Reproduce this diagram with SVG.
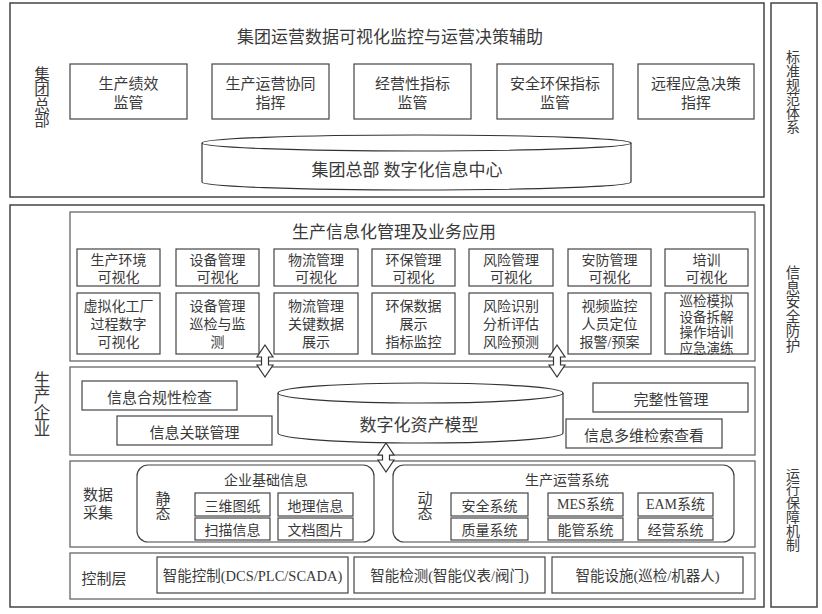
<svg xmlns="http://www.w3.org/2000/svg" width="822" height="614" viewBox="0 0 822 614">
<style>
text{font-family:"Noto Sans CJK SC","Liberation Serif",sans-serif;fill:#3a3a3a;dominant-baseline:central;text-anchor:middle}
.v{writing-mode:vertical-rl;dominant-baseline:auto}
.lat,.ml{font-family:"Liberation Serif","Noto Sans CJK SC",serif}
.frame{fill:#fff;stroke:#444;stroke-width:1.5}
.panel{fill:#fff;stroke:#666;stroke-width:1.3}
.box{fill:#fff;stroke:#444;stroke-width:1.2}
.rr{fill:none;stroke:#444;stroke-width:1.2}
.cyl{fill:#fff;stroke:#333;stroke-width:1.2}
.arrow{fill:#fff;stroke:#333;stroke-width:1.2}
.t15{font-size:15px}
.t14{font-size:14px}
.t17{font-size:17px}
.t16{font-size:16px}
</style>
<rect width="822" height="614" fill="#fff"/>

<!-- right column -->
<g id="side">
<rect class="frame" x="771" y="3" width="46" height="604"/>
<text class="t14 v" x="793" y="92">标准规范体系</text>
<text class="t14 v" x="793" y="309" style="font-size:14.5px">信息安全防护</text>
<text class="t14 v" x="793" y="510">运行保障机制</text>
</g>

<!-- group HQ -->
<g id="hq">
<rect class="frame" x="10" y="3" width="754" height="194"/>
<text class="t17" x="390" y="35">集团运营数据可视化监控与运营决策辅助</text>
<text class="v" x="42" y="97" style="font-size:15.5px">集团总部</text>
</g>
<g id="hq1"><rect class="box" x="70" y="64" width="117" height="55"/><text class="t15 ml"><tspan x="128.5" y="84">生产绩效</tspan><tspan x="128.5" y="103">监管</tspan></text></g>
<g id="hq2"><rect class="box" x="212" y="64" width="117" height="55"/><text class="t15 ml"><tspan x="270.5" y="84">生产运营协同</tspan><tspan x="270.5" y="103">指挥</tspan></text></g>
<g id="hq3"><rect class="box" x="354" y="64" width="117" height="55"/><text class="t15 ml"><tspan x="412.5" y="84">经营性指标</tspan><tspan x="412.5" y="103">监管</tspan></text></g>
<g id="hq4"><rect class="box" x="497" y="64" width="116" height="55"/><text class="t15 ml"><tspan x="555" y="84">安全环保指标</tspan><tspan x="555" y="103">监管</tspan></text></g>
<g id="hq5"><rect class="box" x="638" y="64" width="116" height="55"/><text class="t15 ml"><tspan x="696" y="84">远程应急决策</tspan><tspan x="696" y="103">指挥</tspan></text></g>
<g id="hqdb">
<path class="cyl" d="M202,143 A214.5,8 0 0 1 631,143 L631,182 A214.5,8 0 0 1 202,182 Z"/>
<path class="cyl" fill="none" d="M202,143 A214.5,8 0 0 0 631,143"/>
<text class="t17" x="407" y="168">集团总部 数字化信息中心</text>
</g>

<!-- enterprise -->
<g id="ent">
<rect class="frame" x="10" y="205" width="754" height="402"/>
<text class="v" x="42" y="404" style="font-size:16.5px">生产企业</text>
</g>

<g id="apps">
<rect class="panel" x="70" y="212" width="685" height="149"/>
<text class="t17" x="394" y="230">生产信息化管理及业务应用</text>
</g>
<g id="a1"><rect class="box" x="77" y="249" width="83" height="37"/><text class="t14 ml"><tspan x="118.5" y="260">生产环境</tspan><tspan x="118.5" y="277">可视化</tspan></text></g>
<g id="a2"><rect class="box" x="176" y="249" width="83" height="37"/><text class="t14 ml"><tspan x="217.5" y="260">设备管理</tspan><tspan x="217.5" y="277">可视化</tspan></text></g>
<g id="a3"><rect class="box" x="274" y="249" width="84" height="37"/><text class="t14 ml"><tspan x="316" y="260">物流管理</tspan><tspan x="316" y="277">可视化</tspan></text></g>
<g id="a4"><rect class="box" x="372" y="249" width="83" height="37"/><text class="t14 ml"><tspan x="413.5" y="260">环保管理</tspan><tspan x="413.5" y="277">可视化</tspan></text></g>
<g id="a5"><rect class="box" x="469" y="249" width="84" height="37"/><text class="t14 ml"><tspan x="511" y="260">风险管理</tspan><tspan x="511" y="277">可视化</tspan></text></g>
<g id="a6"><rect class="box" x="568" y="249" width="83" height="37"/><text class="t14 ml"><tspan x="609.5" y="260">安防管理</tspan><tspan x="609.5" y="277">可视化</tspan></text></g>
<g id="a7"><rect class="box" x="665" y="249" width="83" height="37"/><text class="t14 ml"><tspan x="706.5" y="260">培训</tspan><tspan x="706.5" y="277">可视化</tspan></text></g>

<g id="b1"><rect class="box" x="77" y="293" width="83" height="61"/><text class="t14 ml"><tspan x="118.5" y="306">虚拟化工厂</tspan><tspan x="118.5" y="324">过程数字</tspan><tspan x="118.5" y="342">可视化</tspan></text></g>
<g id="b2"><rect class="box" x="176" y="293" width="83" height="61"/><text class="t14 ml"><tspan x="217.5" y="306">设备管理</tspan><tspan x="217.5" y="324">巡检与监</tspan><tspan x="217.5" y="342">测</tspan></text></g>
<g id="b3"><rect class="box" x="274" y="293" width="84" height="61"/><text class="t14 ml"><tspan x="316" y="306">物流管理</tspan><tspan x="316" y="324">关键数据</tspan><tspan x="316" y="342">展示</tspan></text></g>
<g id="b4"><rect class="box" x="372" y="293" width="83" height="61"/><text class="t14 ml"><tspan x="413.5" y="306">环保数据</tspan><tspan x="413.5" y="324">展示</tspan><tspan x="413.5" y="342">指标监控</tspan></text></g>
<g id="b5"><rect class="box" x="469" y="293" width="84" height="61"/><text class="t14 ml"><tspan x="511" y="306">风险识别</tspan><tspan x="511" y="324">分析评估</tspan><tspan x="511" y="342">风险预测</tspan></text></g>
<g id="b6"><rect class="box" x="568" y="293" width="83" height="61"/><text class="t14 ml"><tspan x="609.5" y="306">视频监控</tspan><tspan x="609.5" y="324">人员定位</tspan><tspan x="609.5" y="342">报警/预案</tspan></text></g>
<g id="b7"><rect class="box" x="665" y="293" width="83" height="61"/><text class="ml" style="font-size:13.5px"><tspan x="706.5" y="301">巡检模拟</tspan><tspan x="706.5" y="316.5">设备拆解</tspan><tspan x="706.5" y="332">操作培训</tspan><tspan x="706.5" y="347.5">应急演练</tspan></text></g>

<g id="asset">
<rect class="panel" x="70" y="367" width="685" height="88"/>
</g>
<g id="c1"><rect class="box" x="82" y="381" width="155" height="29"/><text class="t15" x="159.5" y="396">信息合规性检查</text></g>
<g id="c2"><rect class="box" x="117" y="416" width="155" height="29"/><text class="t15" x="194.5" y="431">信息关联管理</text></g>
<g id="c3"><rect class="box" x="593" y="383" width="155" height="29"/><text class="t15" x="671" y="398">完整性管理</text></g>
<g id="c4"><rect class="box" x="566" y="419" width="156" height="29"/><text class="t15" x="644" y="434">信息多维检索查看</text></g>
<g id="assetdb">
<path class="cyl" d="M278,393 A142.5,10 0 0 1 563,393 L563,433 A142.5,10 0 0 1 278,433 Z"/>
<path class="cyl" fill="none" d="M278,393 A142.5,10 0 0 0 563,393"/>
<text class="t17" x="419" y="423">数字化资产模型</text>
</g>

<g id="collect">
<rect class="panel" x="70" y="461" width="685" height="86"/>
<text class="t15 ml"><tspan x="98" y="495">数据</tspan><tspan x="98" y="513">采集</tspan></text>
</g>
<g id="static">
<rect class="rr" x="137" y="465" width="237" height="77" rx="11"/>
<text class="t14" x="266" y="479">企业基础信息</text>
<text class="v" x="163" y="506" style="font-size:15px">静态</text>
</g>
<g id="s1"><rect class="box" x="195" y="493" width="75" height="23"/><text class="t14" x="232.5" y="504.5">三维图纸</text></g>
<g id="s2"><rect class="box" x="278" y="493" width="75" height="23"/><text class="t14" x="315.5" y="504.5">地理信息</text></g>
<g id="s3"><rect class="box" x="195" y="518" width="75" height="22"/><text class="t14" x="232.5" y="529">扫描信息</text></g>
<g id="s4"><rect class="box" x="278" y="518" width="75" height="22"/><text class="t14" x="315.5" y="529">文档图片</text></g>
<g id="dynamic">
<rect class="rr" x="393" y="465" width="341" height="77" rx="11"/>
<text class="t14" x="567" y="479">生产运营系统</text>
<text class="v" x="425" y="506" style="font-size:15px">动态</text>
</g>
<g id="d1"><rect class="box" x="451" y="493" width="77" height="23"/><text class="t14" x="489.5" y="504.5">安全系统</text></g>
<g id="d2"><rect class="box" x="548" y="493" width="75" height="23"/><text class="t14 lat" x="585.5" y="504.5">MES系统</text></g>
<g id="d3"><rect class="box" x="638" y="493" width="75" height="23"/><text class="t14 lat" x="675.5" y="504.5">EAM系统</text></g>
<g id="d4"><rect class="box" x="451" y="518" width="77" height="22"/><text class="t14" x="489.5" y="529">质量系统</text></g>
<g id="d5"><rect class="box" x="548" y="518" width="75" height="22"/><text class="t14" x="585.5" y="529">能管系统</text></g>
<g id="d6"><rect class="box" x="638" y="518" width="75" height="22"/><text class="t14" x="675.5" y="529">经营系统</text></g>

<g id="control">
<rect class="panel" x="70" y="553" width="685" height="46"/>
<text class="t15" x="104" y="577">控制层</text>
</g>
<g id="k1"><rect class="box" x="157" y="557" width="191" height="36"/><text class="t15 lat" x="252.5" y="576" style="font-size:14.5px">智能控制(DCS/PLC/SCADA)</text></g>
<g id="k2"><rect class="box" x="354" y="557" width="191" height="36"/><text class="t15 lat" x="449.5" y="576" style="font-size:14.5px">智能检测(智能仪表/阀门)</text></g>
<g id="k3"><rect class="box" x="552" y="557" width="191" height="36"/><text class="t15 lat" x="647.5" y="576" style="font-size:14.5px">智能设施(巡检/机器人)</text></g>

<g id="connectors">
<polygon class="arrow" points="265,345 273,357 268.5,357 268.5,365 273,365 265,377 257,365 261.5,365 261.5,357 257,357"/>
<polygon class="arrow" points="557,345 565,357 560.5,357 560.5,365 565,365 557,377 549,365 553.5,365 553.5,357 549,357"/>
<polygon class="arrow" points="386,443 394,455 389.5,455 389.5,460 394,460 386,472 378,460 382.5,460 382.5,455 378,455"/>
</g>
</svg>
